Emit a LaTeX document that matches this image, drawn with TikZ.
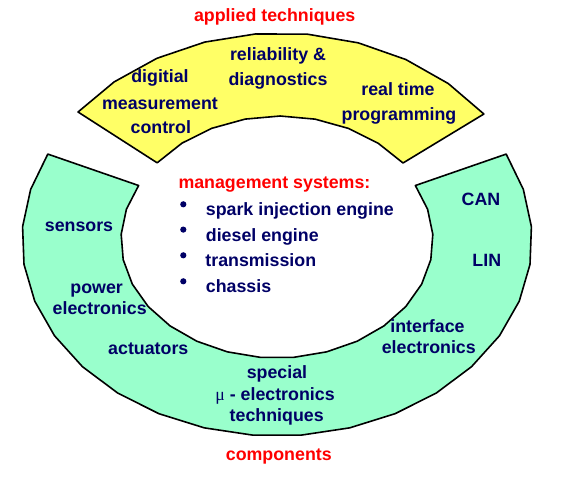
\documentclass[tikz,border=0pt]{standalone}
\usepackage{fontspec}
\setmainfont{Liberation Sans}
\newfontfamily\muserif{Liberation Serif}
\definecolor{txtnavy}{HTML}{000066}
\definecolor{txtred}{HTML}{FF0000}
\definecolor{yellowfill}{HTML}{FFFF66}
\definecolor{greenfill}{HTML}{99FFCC}
\begin{document}
\begin{tikzpicture}[x=1pt,y=-1pt,
  lbl/.style={text=txtnavy, font=\fontsize{17.8}{20}\selectfont\bfseries, inner sep=0pt, anchor=base},
  redlbl/.style={lbl, text=txtred},
  listlbl/.style={lbl, anchor=base west},
  shp/.style={draw=black, line width=1.6pt, line join=round},
  bulletdot/.style={circle, fill=txtnavy, inner sep=0pt, minimum size=6.2pt}]
\useasboundingbox (0,0) rectangle (563,477);
% components ring
\draw[shp, fill=greenfill]
  plot[domain=154:386, samples=22] ({277+255*cos(\x)},{240-196*sin(\x)})
  -- plot[domain=387.5:152.5, samples=20] ({277+156*cos(\x)},{240-118*sin(\x)})
  -- cycle;
% applied techniques arc
\draw[shp, fill=yellowfill]
  plot[domain=37.5:141.8, samples=10] ({280+257*cos(\x)},{240-207*sin(\x)})
  -- plot[domain=141.5:38.4, samples=9] ({280+157*cos(\x)},{240-124*sin(\x)})
  -- cycle;
% headings
\node[redlbl] (applied) at (274.7,21.7) {applied techniques};
\node[redlbl] (components) at (278.8,460) {components};
% yellow labels
\node[lbl] (rel1) at (278,60) {reliability \&};
\node[lbl] (rel2) at (278,85) {diagnostics};
\node[lbl] (dig1) at (160,82.7) {digitial};
\node[lbl] (dig2) at (160,109) {measurement};
\node[lbl] (dig3) at (160.8,133.3) {control};
\node[lbl] (rt1) at (398,95) {real time};
\node[lbl] (rt2) at (399,120) {programming};
% management systems
\node[redlbl, anchor=base west] (mgmt) at (178.3,188.3) {management systems:};
\node[listlbl] (it1) at (205.7,215.7) {spark injection engine};
\node[listlbl] (it2) at (205.7,241) {diesel engine};
\node[listlbl] (it3) at (205.2,266.7) {transmission};
\node[listlbl] (it4) at (205.7,292.7) {chassis};
\node[bulletdot] (b1) at (183.3,204.3) {};
\node[bulletdot] (b2) at (183.3,229.6) {};
\node[bulletdot] (b3) at (183.3,255.3) {};
\node[bulletdot] (b4) at (183.3,281.3) {};
% green labels
\node[lbl] (sens) at (79,231.7) {sensors};
\node[lbl] (pow1) at (96.7,293.3) {power};
\node[lbl] (pow2) at (99.7,314.5) {electronics};
\node[lbl] (act) at (148.3,354) {actuators};
\node[lbl] (sp1) at (277,378.3) {special};
\node[lbl] (sp2) at (275,400) {{\muserif\mdseries μ} - electronics};
\node[lbl] (sp3) at (276.7,421.7) {techniques};
\node[lbl] (can) at (481,205.7) {CAN};
\node[lbl] (lin) at (486.8,266) {LIN};
\node[lbl] (if1) at (427.5,332.3) {interface};
\node[lbl] (if2) at (428.8,353.3) {electronics};
\end{tikzpicture}
\end{document}
